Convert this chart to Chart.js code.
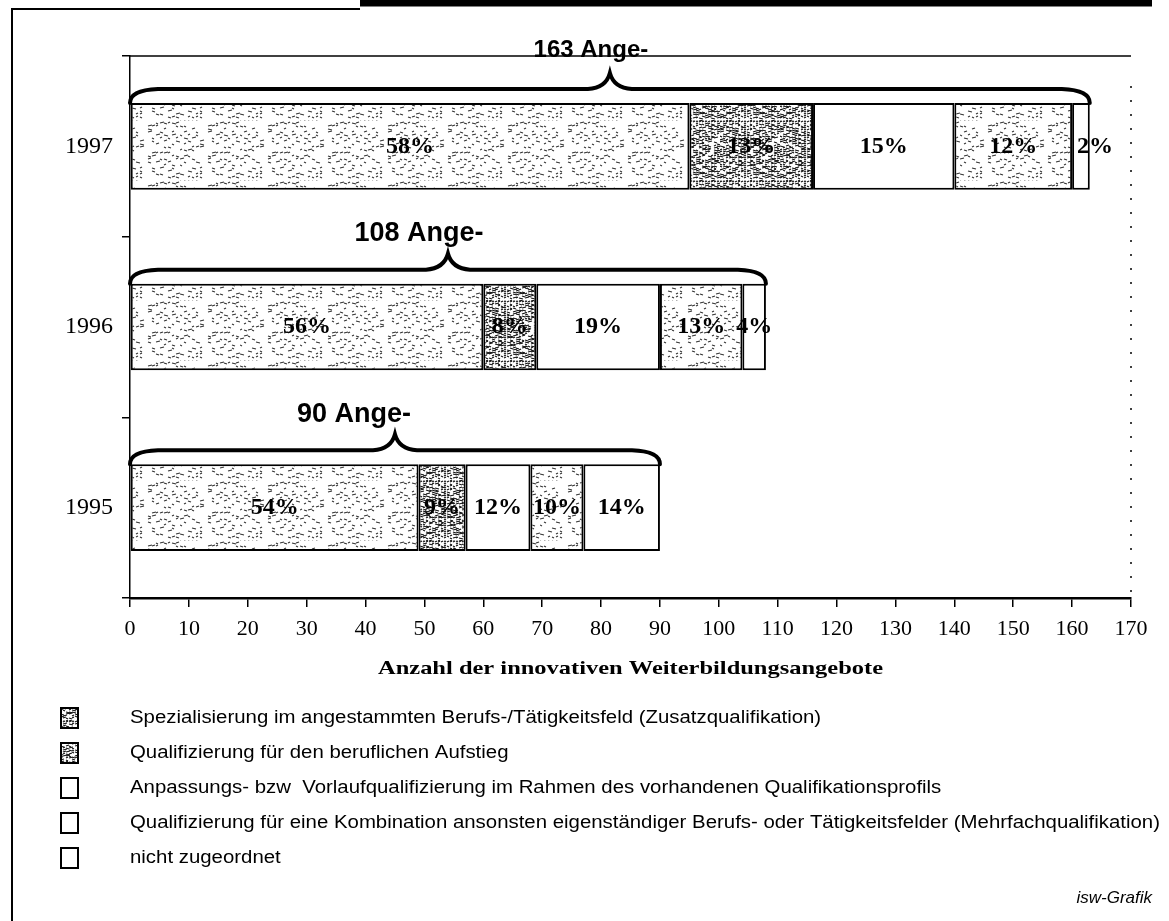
<!DOCTYPE html>
<html>
<head>
<meta charset="utf-8">
<script src="https://cdn.jsdelivr.net/npm/chart.js@4.4.0/dist/chart.umd.min.js"></script>
<style>
  body { margin: 0; background: #fff; }
  #wrap { position: relative; width: 1169px; height: 921px; }
</style>
</head>
<body>
<div id="wrap"><canvas id="chart"></canvas></div>
<script>
// Jahre (von oben nach unten)
const years = ['1997', '1996', '1995'];

// Anzahl der Angebote je Kategorie
const spezialisierung = [95, 60, 49];
const aufstieg = [21, 9, 8];
const anpassung = [24, 21, 11];
const kombination = [20, 14, 9];
const nichtZugeordnet = [3, 4, 13];

// Prozentangaben in den Balken
const pctSpezialisierung = [58, 56, 54];
const pctAufstieg = [13, 8, 9];
const pctAnpassung = [15, 19, 12];
const pctKombination = [12, 13, 10];
const pctNichtZugeordnet = [2, 4, 14];

// Achsenbeschriftungen
const xTicks = [0, 10, 20, 30, 40, 50, 60, 70, 80, 90, 100, 110, 120, 130, 140, 150, 160, 170];
const xTitle = 'Anzahl der innovativen Weiterbildungsangebote';

// Legende
const legendLabels = [
    'Spezialisierung im angestammten Berufs-/Tätigkeitsfeld (Zusatzqualifikation)',
    'Qualifizierung für den beruflichen Aufstieg',
    'Anpassungs- bzw  Vorlaufqualifizierung im Rahmen des vorhandenen Qualifikationsprofils',
    'Qualifizierung für eine Kombination ansonsten eigenständiger Berufs- oder Tätigkeitsfelder (Mehrfachqualifikation)',
    'nicht zugeordnet'
];

// Raster-Muster wie im gescannten Original (nur Textur, keine Daten)
function makePattern(dens, step, dark) {
    const c = document.createElement('canvas');
    c.width = 60; c.height = 60;
    const g = c.getContext('2d');
    g.fillStyle = '#fff';
    g.fillRect(0, 0, 60, 60);
    g.strokeStyle = dark ? '#111' : '#333';
    g.lineWidth = dark ? 1.2 : 1.1;
    for (let j = 0; j < 60; j += step) {
        for (let i = 0; i < 60; i += step + 1) {
            const h = (i * 73 + j * 151 + i * j * 7) % 29;
            if (h < dens) {
                g.beginPath();
                g.moveTo(i, j);
                g.lineTo(i + 2 + (h % 3), j + ((h % 2) ? 1 : -1));
                g.stroke();
            }
        }
    }
    return g.createPattern(c, 'repeat');
}

const ctx = document.getElementById('chart').getContext('2d');
const lightFill = makePattern(10, 3, false);
const darkFill = makePattern(21, 2, true);

const fills = [lightFill, darkFill, '#fff', lightFill, '#fff'];
const legendFills = [darkFill, darkFill, '#fff', '#fff', '#fff'];
const pctLists = [pctSpezialisierung, pctAufstieg, pctAnpassung, pctKombination, pctNichtZugeordnet];
const series = [spezialisierung, aufstieg, anpassung, kombination, nichtZugeordnet];

// Schriftgröße und Versatz der Summenbeschriftung über den Klammern
const braceFont = [24, 27, 27];
const braceShift = [-19, -29, -41];

// Text mit horizontaler Streckung (der Scan ist breiter gezogen)
function stretchedText(c, t, x, y, w) {
    const s = w / c.measureText(t).width;
    c.save();
    c.translate(x, y);
    c.scale(s, 1);
    c.fillText(t, 0, 0);
    c.restore();
}

// Plugin für Prozentwerte, Klammern, Rahmen und Legende
const overlay = {
    id: 'overlay',
    afterDatasetsDraw(chart) {
        const c = chart.ctx;
        const area = chart.chartArea;
        const xs = chart.scales.x;
        c.save();
        // Rahmen der Zeichenfläche
        c.strokeStyle = '#000';
        c.lineWidth = 1.5;
        c.beginPath();
        c.moveTo(area.left, area.top);
        c.lineTo(area.right, area.top);
        c.stroke();
        c.setLineDash([2, 12]);
        c.beginPath();
        c.moveTo(area.right, area.top + 30);
        c.lineTo(area.right, area.bottom);
        c.stroke();
        c.setLineDash([]);

        // Prozentwerte
        c.fillStyle = '#000';
        c.font = 'bold 24px "Liberation Serif", "Times New Roman", serif';
        c.textAlign = 'center';
        c.textBaseline = 'middle';
        chart.data.datasets.forEach(function (ds, d) {
            const meta = chart.getDatasetMeta(d);
            meta.data.forEach(function (bar, i) {
                const p = bar.getProps(['x', 'y', 'base'], true);
                c.fillText(pctLists[d][i] + '%', (p.x + p.base) / 2 + (d == 4 && i == 0 ? 14 : 0), p.y);
            });
        });

        // Geschweifte Klammern mit Summe
        const meta0 = chart.getDatasetMeta(0);
        years.forEach(function (y, i) {
            let total = 0;
            series.forEach(function (s) { total += s[i]; });
            const bar = meta0.data[i].getProps(['y', 'height'], true);
            const top = bar.y - bar.height / 2;
            const x0 = xs.getPixelForValue(0);
            const x1 = xs.getPixelForValue(total);
            const mid = (x0 + x1) / 2;
            c.lineWidth = 4;
            c.lineCap = 'round';
            c.beginPath();
            c.moveTo(x0, top);
            c.quadraticCurveTo(x0, top - 13, x0 + 28, top - 14);
            c.lineTo(mid - 22, top - 14);
            c.quadraticCurveTo(mid - 4, top - 15, mid, top - 30);
            c.quadraticCurveTo(mid + 4, top - 15, mid + 22, top - 14);
            c.lineTo(x1 - 28, top - 14);
            c.quadraticCurveTo(x1, top - 13, x1, top);
            c.stroke();
            c.font = 'bold ' + braceFont[i] + 'px "Liberation Sans", Arial, sans-serif';
            c.fillText(total + ' Ange-', mid + braceShift[i], top - 50 - (i == 0 ? 3 : 0));
        });

        // Achsentitel
        c.font = 'bold 19px "Liberation Serif", "Times New Roman", serif';
        c.textAlign = 'left';
        const tw = 505;
        stretchedText(c, xTitle, (area.left + area.right) / 2 - tw / 2, 669, tw);
        c.restore();
    },
    afterDraw(chart) {
        const c = chart.ctx;
        c.save();
        // äußerer Rahmen
        c.strokeStyle = '#000';
        c.lineWidth = 2;
        c.beginPath();
        c.moveTo(12, 921);
        c.lineTo(12, 9);
        c.lineTo(360, 9);
        c.stroke();
        c.lineWidth = 7;
        c.beginPath();
        c.moveTo(360, 3);
        c.lineTo(1152, 3);
        c.stroke();

        // Legende
        c.font = '17.5px "Liberation Sans", Arial, sans-serif';
        c.textAlign = 'left';
        c.textBaseline = 'middle';
        const longest = c.measureText(legendLabels[3]).width;
        const sx = 1030 / longest;
        legendLabels.forEach(function (t, k) {
            const y = 718 + k * 35;
            c.fillStyle = legendFills[k];
            c.fillRect(61, y - 10, 17, 20);
            c.lineWidth = 2;
            c.strokeStyle = '#000';
            c.strokeRect(61, y - 10, 17, 20);
            c.fillStyle = '#000';
            stretchedText(c, t, 130, y, c.measureText(t).width * sx);
        });
        c.font = 'italic 17px "Liberation Sans", Arial, sans-serif';
        c.textAlign = 'right';
        c.fillText('isw-Grafik', 1152, 898);
        c.restore();
    }
};

new Chart(ctx, {
    type: 'bar',
    data: {
        labels: years,
        datasets: legendLabels.map(function (l, d) {
            return {
                label: l,
                data: series[d],
                backgroundColor: fills[d],
                borderColor: '#000',
                borderWidth: 2,
                borderSkipped: false,
                barPercentage: 0.48,
                categoryPercentage: 1
            };
        })
    },
    options: {
        indexAxis: 'y',
        responsive: true,
        maintainAspectRatio: false,
        animation: false,
        layout: { padding: { left: 20, top: 56, right: 38, bottom: 223 } },
        plugins: { legend: { display: false }, tooltip: { enabled: false } },
        scales: {
            x: {
                stacked: true,
                min: 0,
                max: 170,
                afterBuildTicks: function (s) { s.ticks = xTicks.map(function (v) { return { value: v }; }); },
                afterFit: function (s) { s.height = 100; },
                border: { color: '#000', width: 2.5 },
                grid: { drawOnChartArea: false, color: '#000', tickLength: 9, lineWidth: 1.5 },
                ticks: {
                    color: '#000',
                    padding: 9,
                    maxRotation: 0,
                    font: { family: '"Liberation Serif", "Times New Roman", serif', size: 22 }
                }
            },
            y: {
                stacked: true,
                afterFit: function (s) { s.width = 110; },
                border: { color: '#000', width: 1.5 },
                grid: { drawOnChartArea: false, color: '#000', tickLength: 8, lineWidth: 1.5 },
                ticks: {
                    color: '#000',
                    padding: 9,
                    font: { family: '"Liberation Serif", "Times New Roman", serif', size: 24 }
                }
            }
        }
    },
    plugins: [overlay]
});
</script>
</body>
</html>
